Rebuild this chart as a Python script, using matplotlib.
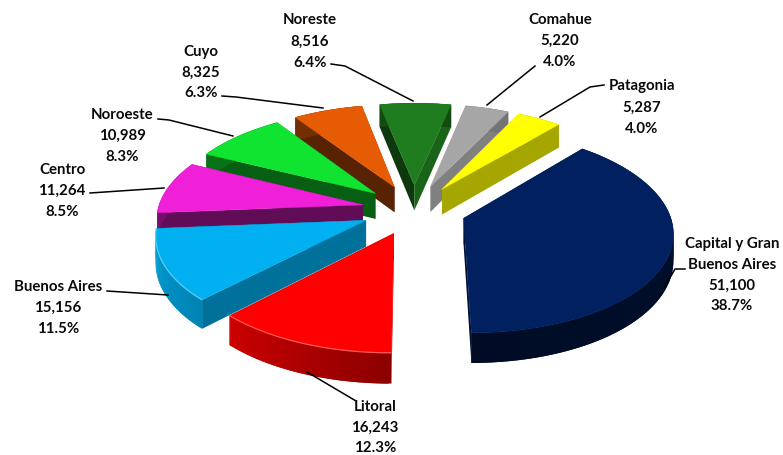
#!/usr/bin/env python3
"""
Exploded 3D pie of regions, drawn by hand since matplotlib has no 3D pie
"""

import numpy as np
import matplotlib
matplotlib.use('Agg')
import matplotlib.pyplot as plt

names = ['Capital y Gran\nBuenos Aires', 'Litoral', 'Buenos Aires', 'Centro', 'Noroeste',
         'Cuyo', 'Noreste', 'Comahue', 'Patagonia']
values = [51100, 16243, 15156, 11264, 10989, 8325, 8516, 5220, 5287]
percents = ['38.7%', '12.3%', '11.5%', '8.5%', '8.3%', '6.3%', '6.4%', '4.0%', '4.0%']
colors = ['#002060', '#ff0000', '#00b0f0', '#f01fd8', '#10e330',
          '#e65c05', '#1f7d1f', '#a6a6a6', '#ffff00']

# shade of the two flat cut faces (first edge, last edge) and of the rim (first, last)
start_shade = [0.5, 0.6, 0.64, 0.4, 0.42, 0.38, 0.45, 0.77, 0.65]
end_shade = [0.5, 0.6, 0.64, 0.4, 0.42, 0.38, 0.8, 0.77, 0.65]
rim_shade = [(0.52, 0.38), (0.55, 0.8), (0.75, 0.9), (0.5, 0.5), (0.5, 0.5),
             (0.5, 0.5), (0.6, 0.6), (0.7, 0.7), (0.65, 0.65)]
rim_glow = [0.0, 0.35, 0.35, 0, 0, 0, 0, 0, 0]

# label centre x, first line y, line gap
label_pos = [(732, 244, 20.7), (375, 407, 20.5), (58, 287, 21), (62, 170, 21), (122, 115, 21),
             (201, 52, 20.5), (310, 20, 21.5), (560, 20, 21), (642, 86, 21.5)]
leaders = [[(685, 269), (675, 269), (664, 288)],
           [(356, 401), (307, 372)],
           [(107, 291), (168, 295)],
           [(90, 193), (164, 188)],
           [(158, 119), (169, 120), (233, 136)],
           [(222, 96), (236, 97), (323, 108)],
           [(331, 64), (345, 66), (413, 101)],
           [(535, 66), (487, 105)],
           [(604, 85), (590, 87), (540, 117)]]

START_ANGLE = 40.6   # degrees clockwise from the back of the pie
EXPLODE = 0.255
CX, CY = 414.0, 209.5
RX, RY = 205.0, 98.0
PERSP = 0.125
DEPTH = 26.0


def project(x, y):
    """Pie plane (radius 1) to pixels, with a bit of perspective"""
    s = 1.0 / (1.0 + PERSP * y)
    return CX + RX * x * s, CY - RY * y * s, s


def shaded(color, f):
    rgb = np.array(matplotlib.colors.to_rgb(color))
    return tuple(rgb * f)


def glow(color, f):
    rgb = np.array(matplotlib.colors.to_rgb(color))
    return tuple(rgb + (1 - rgb) * f)


def draw_slice(ax, i, a0, a1):
    mid = np.radians((a0 + a1) / 2)
    ox, oy = EXPLODE * np.sin(mid), EXPLODE * np.cos(mid)
    ang = np.radians(np.linspace(a0, a1, 61))
    px, py, ps = project(ox + np.sin(ang), oy + np.cos(ang))
    ax_, ay_, a_s = project(ox, oy)
    base = colors[i]

    # the two cut faces
    for k, f in ((0, start_shade[i]), (-1, end_shade[i])):
        xs = [ax_, px[k], px[k], ax_]
        ys = [ay_, py[k], py[k] + DEPTH * ps[k], ay_ + DEPTH * a_s]
        ax.fill(xs, ys, facecolor=shaded(base, f), edgecolor='none')

    # rim, in short overlapping pieces so the shade can run along it without seams
    f0, f1 = rim_shade[i]
    n = len(ang)
    for k in range(n - 1):
        f = f0 + (f1 - f0) * k / (n - 2)
        e = min(k + 2, n - 1)
        xs = [px[k], px[e], px[e], px[k]]
        ys = [py[k], py[e], py[e] + DEPTH * ps[e], py[k] + DEPTH * ps[k]]
        ax.fill(xs, ys, facecolor=shaded(base, f), edgecolor='none')

    # top
    ax.fill(np.r_[ax_, px], np.r_[ay_, py], facecolor=base, edgecolor=base, linewidth=0.3)
    if rim_glow[i] > 0:
        ax.plot(px, py, color=glow(base, rim_glow[i]), linewidth=0.9, solid_capstyle='butt')


def create_pie():
    fig = plt.figure(figsize=(7.83, 4.55), dpi=100, facecolor='white')
    ax = fig.add_axes([0, 0, 1, 1])
    ax.set_xlim(0, 783)
    ax.set_ylim(455, 0)
    ax.axis('off')

    sweep = np.array(values) / sum(values) * 360.0
    edges = START_ANGLE + np.r_[0, np.cumsum(sweep)]

    # back slices first
    mids = np.radians((edges[:-1] + edges[1:]) / 2)
    for i in np.argsort(-np.cos(mids)):
        draw_slice(ax, i, edges[i], edges[i + 1])

    for pts in leaders:
        ax.plot([p[0] for p in pts], [p[1] for p in pts], color='black', linewidth=1.1, zorder=5)

    for name, val, pct, (x, y, gap) in zip(names, values, percents, label_pos):
        lines = name.split('\n') + [f'{val:,}', pct]
        for j, line in enumerate(lines):
            ax.text(x, y + j * gap, line, ha='center', va='center', fontsize=10.8,
                    fontweight='bold', family='Lato', color='#0a0a0a', zorder=6)

    fig.savefig('out.png', dpi=100, facecolor='white')
    plt.close(fig)


if __name__ == "__main__":
    create_pie()
